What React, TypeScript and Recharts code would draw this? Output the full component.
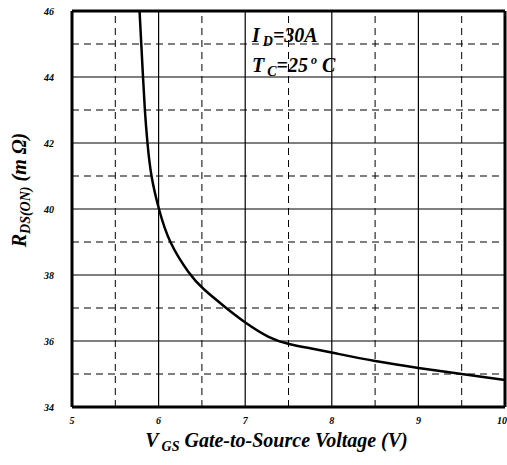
import React from 'react'
import {
  LineChart,
  Line,
  XAxis,
  YAxis,
  ReferenceLine,
  Label,
  Customized,
} from 'recharts'

// V_GS (V) vs R_DS(on) (mOhm)
const vgs = [5.78, 5.8, 5.82, 5.84, 5.87, 5.91, 6.0, 6.115, 6.36, 6.5, 6.78, 7.0, 7.28, 7.5, 7.75, 8.0, 8.5, 9.0, 9.5, 10.0]
const rdson = [46, 45, 44, 43, 42, 41, 40, 39, 38, 37.6, 37, 36.55, 36.08, 35.9, 35.78, 35.65, 35.38, 35.18, 35.0, 34.82]

const xTicks = [5, 6, 7, 8, 9, 10]
const yTicks = [34, 36, 38, 40, 42, 44, 46]
const xDashed = [5.5, 6.5, 7.5, 8.5, 9.5]
const yDashed = [35, 37, 39, 41, 43, 45]
const xSolid = [6, 7, 8, 9]
const ySolid = [36, 38, 40, 42, 44]

const data = vgs.map((v, i) => ({ vgs: v, r: rdson[i] }))

const FONT = '"Liberation Serif", "Times New Roman", serif'

const tickStyle = { fontFamily: FONT, fontSize: 10, fontWeight: 'bold', fontStyle: 'italic', fill: '#000' }

function XTitle(props: any) {
  const { viewBox } = props
  const cx = viewBox.x + viewBox.width / 2 - 12
  return (
    <text x={cx} y={447} textAnchor="middle" fontFamily={FONT} fontSize={20} fontWeight="bold" fontStyle="italic" fill="#000">
      <tspan>V</tspan>
      <tspan dx={3} dy={4} fontSize={14}>GS</tspan>
      <tspan dy={-4}>{'  Gate-to-Source Voltage (V)'}</tspan>
    </text>
  )
}

function YTitle() {
  return (
    <text
      x={0}
      y={0}
      transform="translate(26, 190) rotate(-90)"
      textAnchor="middle"
      fontFamily={FONT}
      fontSize={20}
      fontWeight="bold"
      fontStyle="italic"
      fill="#000"
    >
      <tspan>R</tspan>
      <tspan dy={4} fontSize={14}>DS(ON)</tspan>
      <tspan dy={-4}>{' (m Ω)'}</tspan>
    </text>
  )
}

function Conditions() {
  return (
    <g fontFamily={FONT} fontWeight="bold" fontStyle="italic" fill="#000">
      <text x={252} y={42} fontSize={20}>
        <tspan>I</tspan>
        <tspan dx={3} dy={4} fontSize={14}>D</tspan>
        <tspan dy={-4}>=30A</tspan>
      </text>
      <text x={252} y={72} fontSize={20}>
        <tspan>T</tspan>
        <tspan dx={3} dy={4} fontSize={14}>C</tspan>
        <tspan dy={-4}>=25</tspan>
        <tspan dx={3} dy={-8} fontSize={12}>o</tspan>
        <tspan dy={8}>{' C'}</tspan>
      </text>
    </g>
  )
}

export default function App() {
  return (
    <div style={{ position: 'absolute', left: 0, top: 0, background: '#fff' }}>
      <LineChart width={507} height={465} data={data} margin={{ top: 11, right: 2, left: 0, bottom: 0 }}>
        <XAxis
          dataKey="vgs"
          type="number"
          domain={[5, 10]}
          ticks={xTicks}
          allowDataOverflow
          tickLine={false}
          axisLine={{ stroke: '#000', strokeWidth: 3 }}
          tick={tickStyle}
          tickMargin={4}
          height={58}
        >
          <Label content={<XTitle />} />
        </XAxis>
        <YAxis
          type="number"
          domain={[34, 46]}
          ticks={yTicks}
          allowDataOverflow
          tickLine={false}
          axisLine={{ stroke: '#000', strokeWidth: 3 }}
          tick={tickStyle}
          tickMargin={12}
          width={72}
        >
          <Label content={<YTitle />} />
        </YAxis>
        {xDashed.map((x) => (
          <ReferenceLine key={'xd' + x} x={x} stroke="#000" strokeWidth={1} strokeDasharray="7 5" />
        ))}
        {yDashed.map((y) => (
          <ReferenceLine key={'yd' + y} y={y} stroke="#000" strokeWidth={1} strokeDasharray="7 5" />
        ))}
        {xSolid.map((x) => (
          <ReferenceLine key={'xs' + x} x={x} stroke="#000" strokeWidth={1.2} />
        ))}
        {ySolid.map((y) => (
          <ReferenceLine key={'ys' + y} y={y} stroke="#000" strokeWidth={1.2} />
        ))}
        <ReferenceLine y={46} stroke="#000" strokeWidth={3} />
        <ReferenceLine x={10} stroke="#000" strokeWidth={3} />
        <Line
          dataKey="r"
          type="basis"
          stroke="#000"
          strokeWidth={2.5}
          dot={false}
          isAnimationActive={false}
        />
        <Customized component={<Conditions />} />
      </LineChart>
    </div>
  )
}
